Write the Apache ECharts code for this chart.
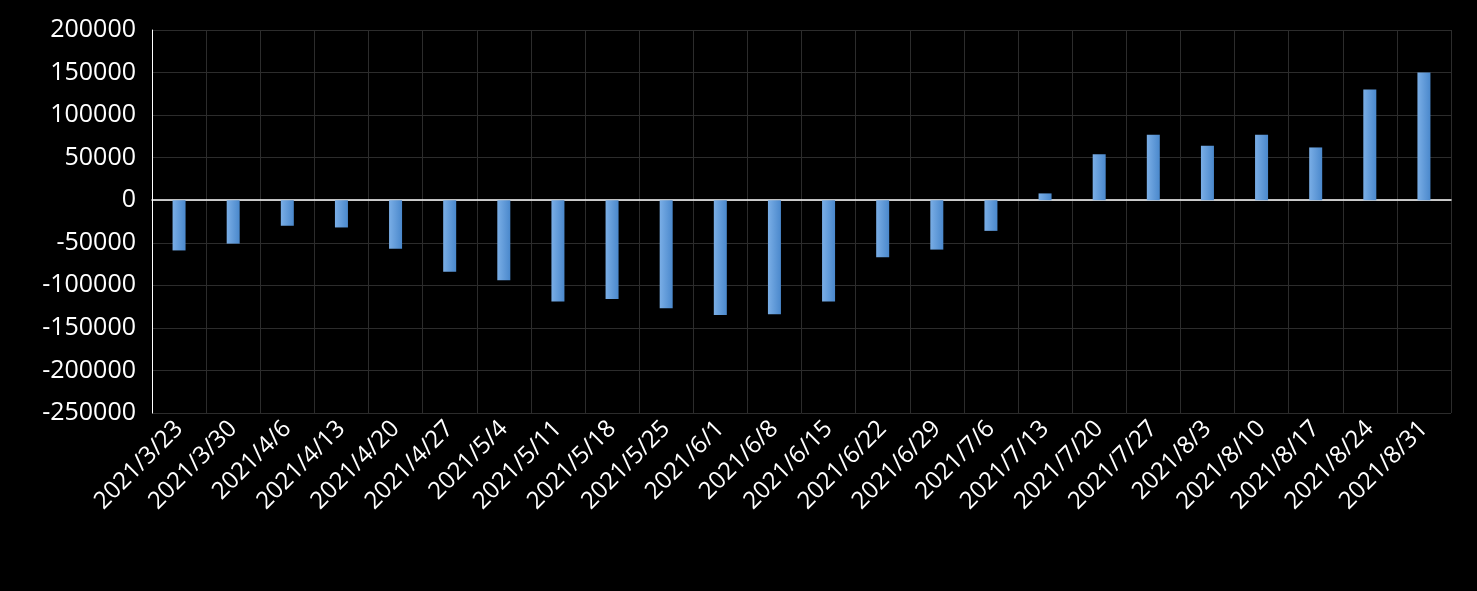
<!DOCTYPE html>
<html>
<head>
<meta charset="utf-8">
<script src="https://cdn.jsdelivr.net/npm/echarts@6/dist/echarts.min.js"></script>
<style>html,body{margin:0;background:#000}#c{width:1477px;height:591px}</style>
</head>
<body>
<div id="c"></div>
<script>
// weekly values
const dates = ['2021/3/23','2021/3/30','2021/4/6','2021/4/13','2021/4/20','2021/4/27','2021/5/4','2021/5/11','2021/5/18','2021/5/25','2021/6/1','2021/6/8','2021/6/15','2021/6/22','2021/6/29','2021/7/6','2021/7/13','2021/7/20','2021/7/27','2021/8/3','2021/8/10','2021/8/17','2021/8/24','2021/8/31'];
const values = [-59000,-51000,-30000,-32000,-57000,-84000,-94000,-119000,-116000,-127000,-135000,-134000,-119000,-67000,-58000,-36000,8000,54000,77000,64000,77000,62000,130000,150000];

const chart = echarts.init(document.getElementById('c'));
chart.setOption({
  backgroundColor: '#000',
  animation: false,
  grid: {left: 152, right: 26, top: 30, bottom: 178},
  xAxis: {
    type: 'category',
    data: dates,
    axisLine: {onZero: true, lineStyle: {color: '#fff', width: 1.5}},
    axisTick: {show: false},
    splitLine: {show: true, lineStyle: {color: '#2c2c2c'}},
    axisLabel: {color: '#fff', rotate: 45, fontSize: 24, fontFamily: 'Open Sans', interval: 0, margin: 12}
  },
  yAxis: {
    type: 'value',
    min: -250000, max: 200000, interval: 50000,
    axisLine: {show: true, lineStyle: {color: '#fff'}},
    splitLine: {lineStyle: {color: '#2c2c2c'}},
    axisLabel: {color: '#fff', fontSize: 25, fontFamily: 'Open Sans', margin: 16, formatter: v => String(v)}
  },
  series: [{
    type: 'bar',
    data: values,
    barWidth: 13,
    itemStyle: {color: new echarts.graphic.LinearGradient(0, 0, 1, 0, [
      {offset: 0, color: '#7aaee6'}, {offset: 1, color: '#4a88cc'}])}
  }]
});
</script>
</body>
</html>
